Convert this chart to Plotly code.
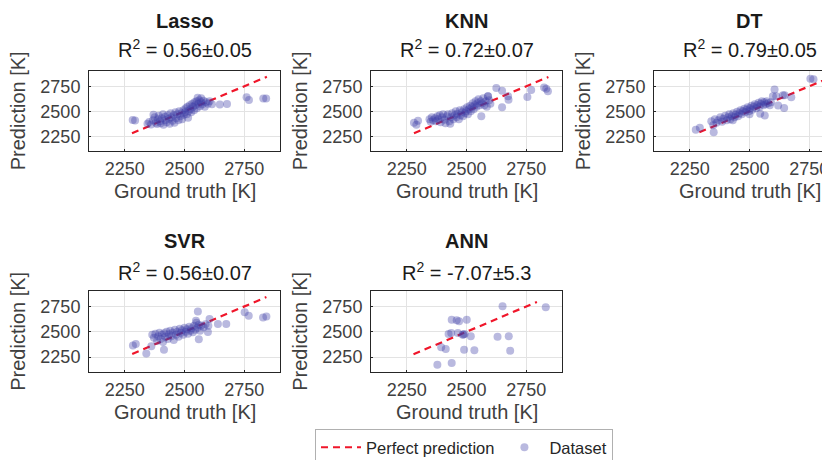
import plotly.graph_objects as go

# ---------------- data ----------------
models = ["Lasso", "KNN", "DT", "SVR", "ANN"]
r2_labels = ["0.56±0.05", "0.72±0.07", "0.79±0.05", "0.56±0.07", "-7.07±5.3"]
tick_vals = [2250, 2500, 2750]

lasso_gt = [2283, 2293, 2345, 2352, 2360, 2368, 2370, 2375, 2380, 2385, 2388, 2392, 2398, 2400, 2405,
            2410, 2412, 2418, 2420, 2425, 2430, 2435, 2438, 2442, 2445, 2450, 2455, 2458, 2462, 2465,
            2470, 2475, 2478, 2482, 2488, 2490, 2495, 2498, 2502, 2505, 2510, 2512, 2515, 2518, 2522,
            2525, 2528, 2532, 2535, 2540, 2542, 2545, 2550, 2552, 2555, 2558, 2562, 2565, 2570, 2570,
            2575, 2580, 2585, 2590, 2598, 2605, 2615, 2648, 2678, 2760, 2770, 2830, 2842]
lasso_pred = [2412, 2408, 2375, 2392, 2368, 2410, 2465, 2440, 2385, 2372, 2420, 2455, 2400, 2380, 2430,
              2470, 2365, 2445, 2410, 2390, 2460, 2425, 2375, 2480, 2440, 2405, 2460, 2385, 2490, 2430,
              2470, 2410, 2500, 2450, 2480, 2420, 2510, 2465, 2490, 2530, 2470, 2545, 2435, 2505, 2560,
              2520, 2490, 2575, 2545, 2510, 2590, 2560, 2600, 2530, 2635, 2575, 2610, 2550, 2590, 2630,
              2570, 2605, 2545, 2590, 2575, 2600, 2570, 2568, 2572, 2640, 2612, 2627, 2627]

knn_gt = [2280, 2297, 2290, 2345, 2350, 2355, 2360, 2368, 2372, 2378, 2382, 2388, 2392, 2398, 2402,
          2408, 2412, 2418, 2422, 2428, 2432, 2436, 2440, 2445, 2450, 2455, 2458, 2462, 2468, 2472,
          2476, 2480, 2485, 2490, 2494, 2498, 2502, 2506, 2510, 2515, 2518, 2522, 2526, 2530, 2534,
          2538, 2542, 2546, 2550, 2555, 2560, 2562, 2566, 2570, 2575, 2580, 2585, 2590, 2595, 2600,
          2590, 2625, 2649, 2674, 2676, 2649, 2755, 2771, 2825, 2834, 2841]
knn_pred = [2385, 2405, 2365, 2420, 2395, 2440, 2410, 2430, 2400, 2450, 2420, 2460, 2390, 2440, 2470,
            2415, 2380, 2450, 2470, 2400, 2375, 2440, 2480, 2420, 2460, 2500, 2440, 2475, 2420, 2510,
            2460, 2490, 2450, 2520, 2480, 2500, 2540, 2470, 2520, 2555, 2500, 2540, 2580, 2520, 2560,
            2600, 2545, 2580, 2620, 2560, 2600, 2450, 2580, 2630, 2560, 2600, 2545, 2650, 2610, 2575,
            2650, 2733, 2706, 2650, 2615, 2540, 2643, 2713, 2737, 2725, 2700]

dt_gt = [2275, 2292, 2340, 2348, 2350, 2355, 2362, 2370, 2378, 2385, 2390, 2398, 2405, 2410, 2415,
         2420, 2425, 2430, 2432, 2438, 2442, 2448, 2452, 2458, 2462, 2468, 2472, 2478, 2482, 2488,
         2492, 2498, 2500, 2502, 2508, 2512, 2518, 2522, 2528, 2532, 2538, 2542, 2545, 2548, 2552,
         2558, 2562, 2564, 2568, 2572, 2578, 2585, 2590, 2598, 2605, 2612, 2620, 2640, 2645, 2647,
         2675, 2755, 2768, 2830, 2842]
dt_pred = [2315, 2335, 2400, 2360, 2290, 2420, 2385, 2410, 2440, 2395, 2425, 2455, 2410, 2440, 2470,
           2420, 2450, 2410, 2480, 2440, 2465, 2495, 2450, 2480, 2510, 2470, 2500, 2525, 2490, 2515,
           2540, 2500, 2470, 2530, 2555, 2515, 2545, 2570, 2530, 2560, 2585, 2545, 2475, 2575, 2600,
           2560, 2590, 2457, 2570, 2600, 2580, 2560, 2590, 2650, 2717, 2650, 2557, 2660, 2533, 2660,
           2640, 2825, 2820, 2717, 2805]

svr_gt = [2284, 2296, 2340, 2361, 2365, 2372, 2378, 2385, 2390, 2395, 2400, 2405, 2410, 2414, 2415,
          2420, 2425, 2430, 2435, 2440, 2445, 2450, 2455, 2460, 2465, 2470, 2475, 2480, 2485, 2490,
          2495, 2500, 2505, 2510, 2515, 2520, 2525, 2530, 2535, 2540, 2545, 2548, 2550, 2555, 2556,
          2560, 2560, 2565, 2570, 2580, 2588, 2598, 2600, 2605, 2640, 2675, 2752, 2769, 2829, 2843]
svr_pred = [2365, 2380, 2285, 2357, 2470, 2440, 2480, 2410, 2455, 2490, 2430, 2470, 2400, 2323, 2485,
            2450, 2500, 2430, 2475, 2510, 2455, 2490, 2420, 2520, 2470, 2500, 2450, 2530, 2490, 2515,
            2470, 2540, 2500, 2525, 2480, 2550, 2510, 2535, 2495, 2560, 2520, 2610, 2590, 2540, 2700,
            2570, 2427, 2510, 2560, 2545, 2575, 2499, 2560, 2626, 2577, 2577, 2693, 2659, 2640, 2650]

ann_gt = [2651, 2832, 2438, 2459, 2469, 2501, 2425, 2436, 2464, 2484, 2487, 2492, 2518, 2630, 2677,
          2394, 2413, 2490, 2533, 2683, 2378, 2438]
ann_pred = [2752, 2742, 2620, 2613, 2604, 2620, 2478, 2488, 2488, 2471, 2474, 2478, 2456, 2452, 2456,
            2347, 2330, 2323, 2317, 2313, 2175, 2192]

gt_data = [lasso_gt, knn_gt, dt_gt, svr_gt, ann_gt]
pred_data = [lasso_pred, knn_pred, dt_pred, svr_pred, ann_pred]

# perfect-prediction line extent per model
line_start = [2280, 2280, 2290, 2281, 2278]
line_end = [2845, 2843, 2845, 2843, 2795]

axis_range = [2100, 2900]

# ---------------- layout geometry ----------------
W, H = 830, 460
col_px = [(81, 272), (363, 554), (646, 837)]
row_px = [(63.3, 143.3), (283.3, 364.3)]
panel_pos = [(0, 0), (0, 1), (0, 2), (1, 0), (1, 1)]

FONT = "Liberation Sans, Arial, Helvetica, sans-serif"
TXT = "#404040"
AX = "#262626"
GRID = "#e3e3e3"
MARK = "rgba(60,60,165,0.36)"

fig = go.Figure()
annotations = []

for i, name in enumerate(models):
    r, c = panel_pos[i]
    x0, x1 = col_px[c]
    y0, y1 = row_px[r]
    xa = "x" if i == 0 else f"x{i+1}"
    ya = "y" if i == 0 else f"y{i+1}"
    xdom = [x0 / W, min(x1 / W, 1.0)]
    ydom = [1 - y1 / H, 1 - y0 / H]
    upper = axis_range[1]
    mirror_y = True
    if x1 > W:
        upper = axis_range[0] + (W - x0) / (x1 - x0) * (axis_range[1] - axis_range[0])
        mirror_y = False

    fig.add_trace(go.Scatter(
        x=[line_start[i], line_end[i]], y=[line_start[i], line_end[i]],
        mode="lines", line=dict(color="#f0162a", width=2.2, dash="7px,5px"),
        name="Perfect prediction", showlegend=(i == 0), legendrank=1,
        xaxis=xa, yaxis=ya, hoverinfo="skip"))
    fig.add_trace(go.Scatter(
        x=gt_data[i], y=pred_data[i], mode="markers",
        marker=dict(size=8, color=MARK, line=dict(width=0)),
        name="Dataset", showlegend=(i == 0), legendrank=2,
        xaxis=xa, yaxis=ya))

    axcommon = dict(
        tickvals=tick_vals, showgrid=True, gridcolor=GRID, gridwidth=1,
        zeroline=False, showline=True, linecolor=AX, linewidth=1,
        ticks="inside", ticklen=2, tickcolor=AX,
        tickfont=dict(family=FONT, size=18, color=TXT))
    fig.layout[("xaxis" if i == 0 else f"xaxis{i+1}")] = dict(
        axcommon, domain=xdom, anchor=ya, range=[axis_range[0], upper],
        mirror=True, ticklabelstandoff=1)
    fig.layout[("yaxis" if i == 0 else f"yaxis{i+1}")] = dict(
        axcommon, domain=ydom, anchor=xa, range=axis_range,
        mirror=mirror_y, ticklabelstandoff=4)

    xc = (x0 + x1) / 2
    title_y = 15 if r == 0 else 235
    r2_y = 48 if r == 0 else 270
    annotations.append(dict(
        text=f"<b>{name}</b>", x=xc / W, y=1 - title_y / H, xref="paper", yref="paper",
        xanchor="center", yanchor="middle", showarrow=False, height=24, valign="middle",
        borderpad=0, yshift=2,
        font=dict(family=FONT, size=20, color="#1a1a1a")))
    annotations.append(dict(
        text=f"R<sup>2</sup> = {r2_labels[i]}", x=xc / W, y=1 - r2_y / H,
        xref="paper", yref="paper", xanchor="center", yanchor="middle", showarrow=False,
        yshift=7, font=dict(family=FONT, size=20, color="#1a1a1a")))
    annotations.append(dict(
        text="Ground truth [K]", x=xc / W, y=1 - (y1 + 47) / H, xref="paper", yref="paper",
        xanchor="center", yanchor="middle", showarrow=False, yshift=7,
        font=dict(family=FONT, size=20, color=TXT)))
    annotations.append(dict(
        text="Prediction [K]", x=(x0 - 65) / W, y=1 - ((y0 + y1) / 2) / H, xref="paper",
        yref="paper", xanchor="center", yanchor="middle", textangle=-90, showarrow=False,
        xshift=-6, font=dict(family=FONT, size=20, color=TXT)))

fig.update_layout(
    width=W, height=H, margin=dict(l=0, r=0, t=0, b=0),
    paper_bgcolor="white", plot_bgcolor="white",
    annotations=annotations,
    showlegend=True,
    legend=dict(orientation="h", x=456 / W, xanchor="center", y=2 / H, yanchor="bottom",
                bordercolor="#b0b0b0", borderwidth=1, bgcolor="white",
                font=dict(family=FONT, size=16.5, color="#262626"),
                itemwidth=40, tracegroupgap=0),
)

fig.write_html("out.html")
